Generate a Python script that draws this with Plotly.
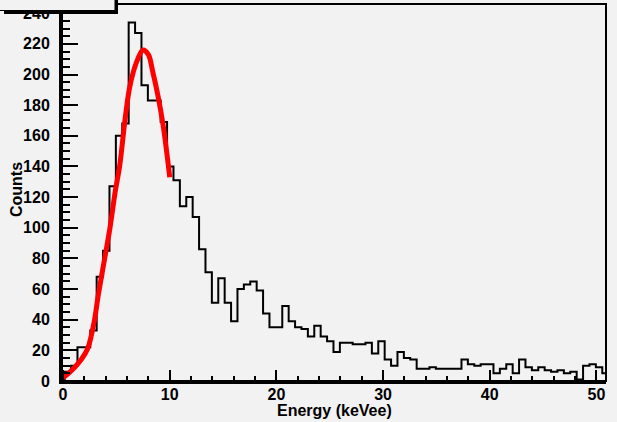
import plotly.graph_objects as go

# ---- data ----
BIN_LOW = 0.15
BIN_WIDTH = 0.6
COUNTS = [6, 10, 22, 22, 33, 68, 85, 127, 160, 168,
          234, 227, 193, 183, 183, 169, 140, 131, 114, 120,
          107, 86, 71, 51, 67, 51, 39, 60, 63, 65,
          59, 44, 35, 35, 49, 39, 35, 34, 29, 36,
          29, 26, 19, 25, 25, 24, 24, 25, 18, 26,
          14, 10, 19, 15, 14, 8, 8, 9, 8, 8,
          8, 8, 14, 11, 10, 11, 11, 5, 8, 11,
          5, 14, 9, 7, 9, 7, 6, 7, 5, 6,
          1, 10, 11, 9, 5]
FIT_ENERGY = [0.0, 0.5, 1.1, 1.7, 2.3, 2.9, 3.3, 3.9, 4.4, 4.9, 5.3, 5.8, 6.2, 6.6, 7.0, 7.5, 8.0, 8.4, 8.9, 9.4, 10.0]
FIT_COUNTS = [2, 5, 9, 14, 21, 38, 56, 80, 100, 124, 140, 170, 190, 202, 210, 216, 213, 202, 186, 166, 133]
X_TICKS = [0, 10, 20, 30, 40, 50]
Y_TICKS = list(range(0, 241, 20))
X_RANGE = [-0.1, 50.9]
Y_RANGE = [0, 246]
X_TITLE = "Energy (keVee)"
Y_TITLE = "Counts"

edges = [BIN_LOW + i * BIN_WIDTH for i in range(len(COUNTS) + 1)]
hx = [edges[0]] + edges + [edges[-1]]
hy = [0] + COUNTS + [COUNTS[-1], 0]

BG = "#f2f2f2"
FONT = dict(family="Liberation Sans, Arial, sans-serif", size=16, color="black", weight="bold")

fig = go.Figure()
fig.add_trace(go.Scatter(x=hx, y=hy, mode="lines", line=dict(shape="hv", color="black", width=2),
                         hoverinfo="skip", showlegend=False))
fig.add_trace(go.Scatter(x=FIT_ENERGY, y=FIT_COUNTS, mode="lines",
                         line=dict(shape="spline", color="#ff0000", width=5), showlegend=False))

W, H = 617, 422
L, R, T, B = 62, 11, 4, 41
pw, ph = W - L - R, H - T - B

def px(x):
    return (x - L) / pw

def py(y):
    return (H - B - y) / ph

shapes = [
    dict(type="rect", xref="paper", yref="paper", x0=0, x1=1, y0=0, y1=1,
         line=dict(color="black", width=2), fillcolor="rgba(0,0,0,0)", layer="above"),
    # pave box (shadow + box) in top-left corner
    dict(type="rect", xref="paper", yref="paper", x0=px(4), x1=px(118), y0=py(14), y1=py(-10),
         line=dict(width=0), fillcolor="black", layer="above"),
    dict(type="rect", xref="paper", yref="paper", x0=px(-10), x1=px(115), y0=py(10.5), y1=py(-10),
         line=dict(color="black", width=1), fillcolor=BG, layer="above"),
]

annotations = [
    dict(text=X_TITLE, xref="paper", yref="paper", x=0.5, y=py(411), showarrow=False,
         xanchor="center", yanchor="middle", font=FONT),
    dict(text=Y_TITLE, xref="paper", yref="paper", x=px(16), y=py(190), showarrow=False,
         xanchor="center", yanchor="middle", textangle=-90, font=FONT),
]

fig.update_layout(
    width=W, height=H, autosize=False,
    margin=dict(l=L, r=R, t=T, b=B),
    paper_bgcolor=BG, plot_bgcolor=BG,
    font=FONT,
    shapes=shapes,
    annotations=annotations,
    xaxis=dict(range=X_RANGE, tickvals=X_TICKS, ticks="inside", ticklen=11, tickwidth=2,
               tickcolor="black", minor=dict(dtick=2, ticks="inside", ticklen=5, tickwidth=2, tickcolor="black"),
               showline=True, linewidth=3, linecolor="black", showgrid=False, zeroline=False,
               automargin=False, tickfont=FONT, ticklabelstandoff=-3),
    yaxis=dict(range=Y_RANGE, tickvals=Y_TICKS, ticks="inside", ticklen=16, tickwidth=2,
               tickcolor="black", minor=dict(dtick=5, ticks="inside", ticklen=8, tickwidth=2, tickcolor="black"),
               showline=True, linewidth=3, linecolor="black", showgrid=False, zeroline=False,
               automargin=False, tickfont=FONT, ticklabelstandoff=6),
)

fig.write_html("out.html", config={"displayModeBar": False},
               post_script="document.body.style.margin='0px';")
